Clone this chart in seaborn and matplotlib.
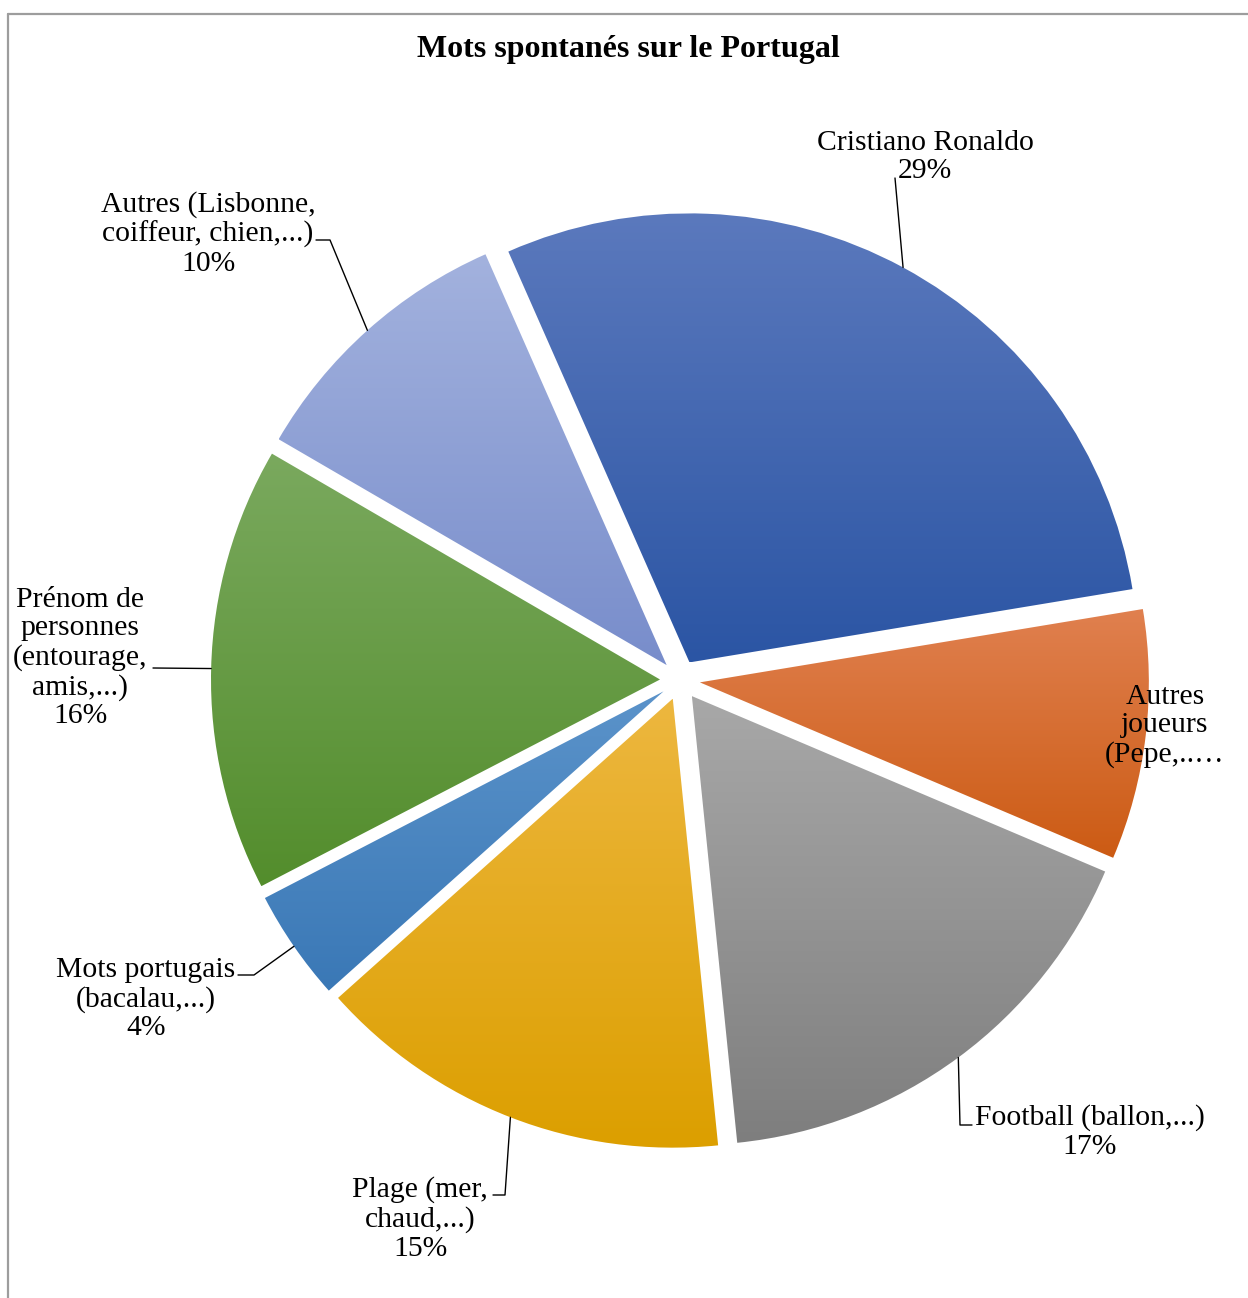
import numpy as np
import matplotlib
matplotlib.use("Agg")
import matplotlib.pyplot as plt
from matplotlib.lines import Line2D
import seaborn as sns

# ---- data -------------------------------------------------------------
categories = [
    "Cristiano Ronaldo",
    "Autres joueurs (Pepe,...)",
    "Football (ballon,...)",
    "Plage (mer, chaud,...)",
    "Mots portugais (bacalau,...)",
    "Prénom de personnes (entourage, amis,...)",
    "Autres (Lisbonne, coiffeur, chien,...)",
]
shares = [29, 9, 17, 15, 4, 16, 10]
label_lines = [
    ["Cristiano Ronaldo"],
    ["Autres", "joueurs", "(Pepe,..…"],
    ["Football (ballon,...)"],
    ["Plage (mer,", "chaud,...)"],
    ["Mots portugais", "(bacalau,...)"],
    ["Prénom de", "personnes", "(entourage,", "amis,...)"],
    ["Autres (Lisbonne,", "coiffeur, chien,...)"],
]
show_pct = [True, False, True, True, True, True, True]
title = "Mots spontanés sur le Portugal"

# gradient colours per slice (top, bottom)
top_colors = ["#5b79bd", "#e0804f", "#a8a8a8", "#edb73f", "#5b93ca", "#7aa95e", "#a3b2de"]
bottom_colors = ["#2b55a4", "#cc5b14", "#7e7e7e", "#dc9f00", "#3a78b6", "#538d2c", "#788dcb"]

# ---- layout (pixel space, y measured from the top) -------------------
W, H = 1248, 1298
CENTER = (680, 680)
RADIUS = 449
EXPLODE_PX = 20
START_ANGLE = 113.8
label_pos = [(925, 157), (1165, 726), (1090, 1132), (420, 1219),
             (146, 999), (80, 658), (208, 234)]
leader_path = [
    [(895, 178)],
    [],
    [(960, 1125), (972, 1125)],
    [(505, 1195), (493, 1195)],
    [(254, 975), (238, 975)],
    [(153, 668)],
    [(330, 240), (316, 240)],
]

sns.set_theme(style="white")
plt.rcParams["font.family"] = ["Liberation Serif", "DejaVu Serif"]

fig = plt.figure(figsize=(W / 100, H / 100), dpi=100)
fig.patch.set_facecolor("white")
ax = fig.add_axes([0, 0, 1, 1])


def fy(y):
    return H - y


# pie offsets each wedge by `explode` data units
wedges, _ = ax.pie(
    shares,
    explode=[EXPLODE_PX] * len(shares),
    startangle=START_ANGLE,
    counterclock=False,
    radius=RADIUS,
    center=(CENTER[0], fy(CENTER[1])),
    wedgeprops=dict(linewidth=0),
)

# vertical gradient fill inside each wedge
grad = np.linspace(0, 1, 256).reshape(-1, 1)
for w, ctop, cbot in zip(wedges, top_colors, bottom_colors):
    w.set_facecolor("none")
    w.set_edgecolor("none")
    ext = w.get_path().get_extents()
    cmap = sns.blend_palette([cbot, ctop], 256, as_cmap=True)
    im = ax.imshow(grad, cmap=cmap, origin="lower", aspect="auto",
                   extent=[ext.x0, ext.x1, ext.y0, ext.y1],
                   interpolation="bilinear", zorder=2)
    im.set_clip_path(w)

# labels and leader lines
for w, lines, pct, val, pos, path in zip(wedges, label_lines, show_pct,
                                         shares, label_pos, leader_path):
    txt = list(lines)
    if pct:
        txt.append(f"{val}%")
    ax.text(pos[0], fy(pos[1]), "\n".join(txt), ha="center", va="center",
            fontsize=21.3, color="black", linespacing=1.13, zorder=5)
    if path:
        mid = np.deg2rad((w.theta1 + w.theta2) / 2)
        cx, cy = w.center
        px = [cx + w.r * np.cos(mid)] + [p[0] for p in path]
        py = [cy + w.r * np.sin(mid)] + [fy(p[1]) for p in path]
        ax.plot(px, py, color="black", lw=1.0, zorder=4)

ax.text(628, fy(50), title, ha="center", va="center", fontsize=23,
        fontweight="bold", color="black")

ax.set_xlim(0, W)
ax.set_ylim(0, H)
ax.set_aspect("equal")
ax.axis("off")

# chart-area frame (top and left edges visible)
fig.add_artist(Line2D([7.5 / W, 1.0], [1 - 14 / H, 1 - 14 / H],
                      color="#9d9d9d", lw=1.6))
fig.add_artist(Line2D([7.5 / W, 7.5 / W], [0.0, 1 - 14 / H],
                      color="#9d9d9d", lw=1.6))

fig.savefig("out.png", dpi=100, facecolor="white")
